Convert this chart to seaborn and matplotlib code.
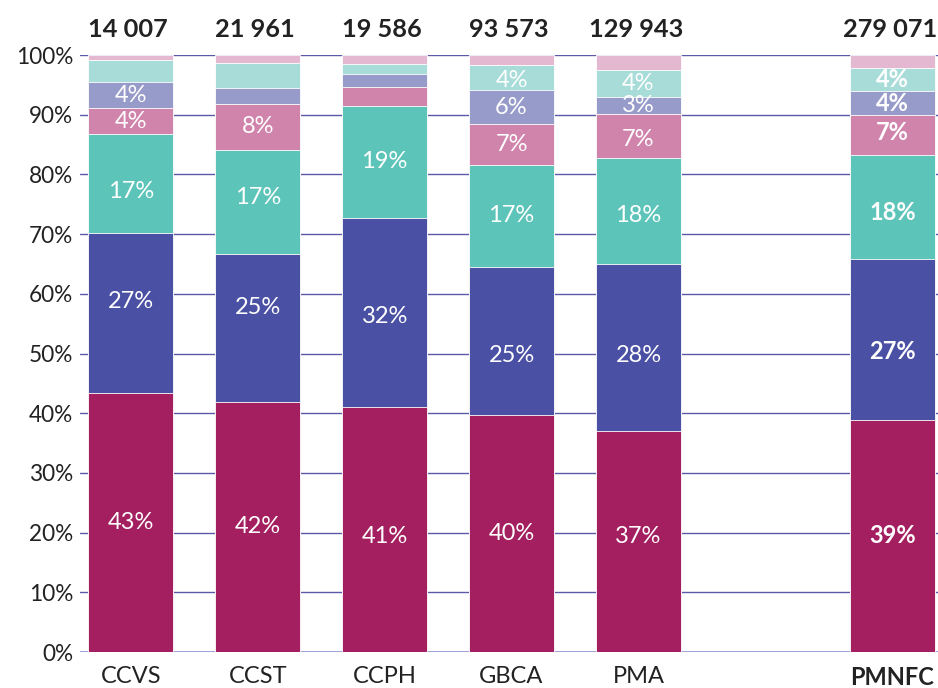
import matplotlib
matplotlib.use("Agg")
import matplotlib.pyplot as plt
import seaborn as sns
import numpy as np
import pandas as pd

# categories (empty slot between PMA and PMNFC)
categories = ["CCVS", "CCST", "CCPH", "GBCA", "PMA", "PMNFC"]
order = ["CCVS", "CCST", "CCPH", "GBCA", "PMA", " ", "PMNFC"]
totals = ["14 007", "21 961", "19 586", "93 573", "129 943", "279 071"]

# shares per segment, bottom to top (%)
seg1 = [43.4, 41.9, 41.0, 39.7, 37.0, 38.9]
seg2 = [26.8, 24.8, 31.7, 24.8, 28.0, 26.9]
seg3 = [16.6, 17.4, 18.8, 17.1, 17.7, 17.4]
seg4 = [4.3, 7.7, 3.2, 6.8, 7.5, 6.8]
seg5 = [4.4, 2.7, 2.2, 5.7, 2.8, 3.9]
seg6 = [3.7, 4.2, 1.6, 4.2, 4.5, 4.0]
seg7 = [0.8, 1.3, 1.5, 1.7, 2.5, 2.1]

# shown labels per segment
lab1 = ["43%", "42%", "41%", "40%", "37%", "39%"]
lab2 = ["27%", "25%", "32%", "25%", "28%", "27%"]
lab3 = ["17%", "17%", "19%", "17%", "18%", "18%"]
lab4 = ["4%", "8%", "", "7%", "7%", "7%"]
lab5 = ["4%", "", "", "6%", "3%", "4%"]
lab6 = ["", "", "", "4%", "4%", "4%"]
lab7 = ["", "", "", "", "", ""]

colors = ["#a31f5f", "#4a50a3", "#5dc4b9", "#d083ab", "#979bca", "#a8dcd8", "#e4b8d1"]

# labels in the original are not exactly centred -> small vertical nudges (pct points)
nudge = {(1, "CCVS"): 1.9, (2, "CCVS"): -1.4,
         (1, "CCST"): 3.4, (2, "CCST"): 0.8,
         (0, "CCPH"): -1.1, (1, "CCPH"): -0.6,
         (1, "GBCA"): -2.4, (5, "GBCA"): -0.5,
         (0, "PMA"): 0.9, (1, "PMA"): -1.3, (2, "PMA"): -0.7, (3, "PMA"): -0.6,
         (1, "PMNFC"): -2.0, (2, "PMNFC"): -0.8, (3, "PMNFC"): 0.5}

segments = [seg1, seg2, seg3, seg4, seg5, seg6, seg7]
labels = [lab1, lab2, lab3, lab4, lab5, lab6, lab7]

sns.set_style("white")
plt.rcParams["font.family"] = ["Lato", "DejaVu Sans"]

fig = plt.figure(figsize=(9.38, 6.88), dpi=100)
ax = fig.add_axes([0.0853, 0.0523, 0.9147, 0.8677])

vals = np.array(segments)
cum = np.cumsum(vals, axis=0)

# gridlines behind bars
for g in range(10, 101, 10):
    ax.axhline(g, color="#5a5aa8", lw=1.0, zorder=0)
ax.axhline(0, color="#8c8fd0", lw=1.2, zorder=0)

# draw cumulative layers from top to bottom so lower ones cover
for i in range(len(segments) - 1, -1, -1):
    df = pd.DataFrame({"cat": categories, "val": cum[i]})
    sns.barplot(data=df, x="cat", y="val", order=order, color=colors[i],
                width=0.67, saturation=1, edgecolor="white", linewidth=0.6,
                ax=ax, zorder=2)

pos = {c: order.index(c) for c in categories}
for i, seg in enumerate(segments):
    for j, c in enumerate(categories):
        txt = labels[i][j]
        if not txt:
            continue
        y = cum[i][j] - seg[j] / 2 + nudge.get((i, c), 0)
        ax.text(pos[c], y, txt, ha="center", va="center", color="white",
                fontsize=17, fontweight="bold" if c == "PMNFC" else "normal",
                zorder=5)

for j, c in enumerate(categories):
    ax.text(pos[c] - 0.02, 102.4, totals[j], ha="center", va="bottom", color="#222222",
            fontsize=18.3, fontweight="bold")

ax.set_ylim(0, 100)
ax.set_xlim(-0.40, 6.36)
ax.set_yticks(range(0, 101, 10))
ax.set_yticklabels([f"{v}%" for v in range(0, 101, 10)])
ax.set_xlabel("")
ax.set_ylabel("")
ax.tick_params(axis="both", length=0, labelcolor="#222222")
ax.tick_params(axis="x", pad=10, labelsize=17)
ax.tick_params(axis="y", pad=5, labelsize=16.3)
ax.get_xticklabels()[6].set_fontweight("bold")
for s in ax.spines.values():
    s.set_visible(False)

fig.savefig("out.png", dpi=100)
